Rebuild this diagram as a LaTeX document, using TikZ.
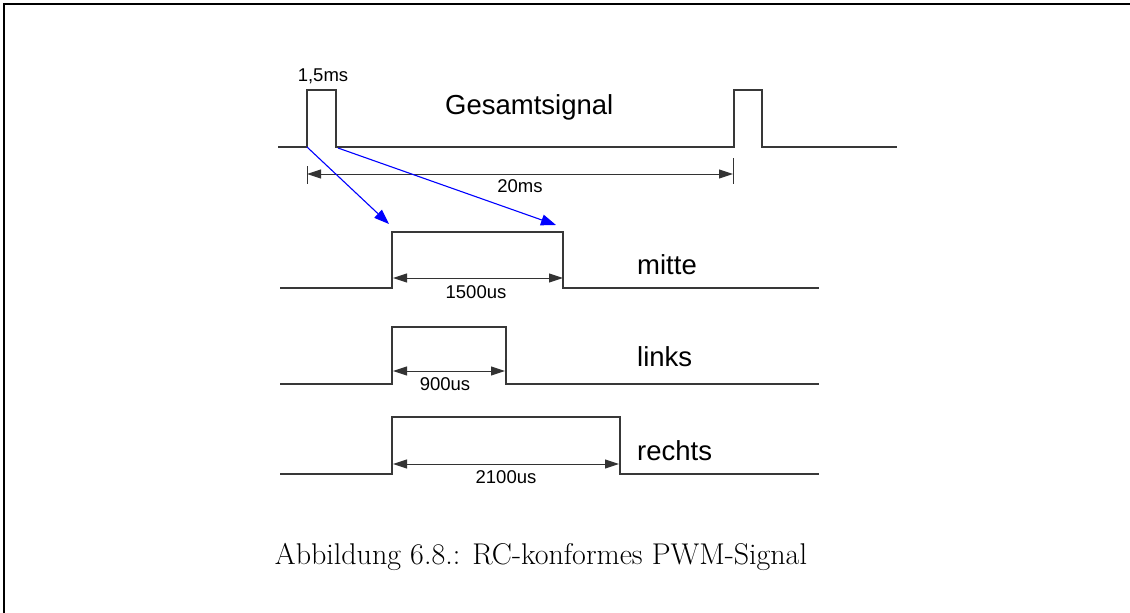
\documentclass[tikz,border=0pt]{standalone}
\usepackage{fontspec}
\newfontfamily\arialf{Liberation Sans}
\usetikzlibrary{arrows.meta}
\begin{document}
\begin{tikzpicture}[x=1pt,y=-1pt,
  sig/.style={draw=black!78,line width=1.1pt},
  dim/.style={draw=black!80,line width=1pt,{Triangle[length=14pt,width=9pt]}-{Triangle[length=14pt,width=9pt]}},
  tick/.style={draw=black!80,line width=1pt},
  bluearr/.style={draw=blue,line width=1.1pt,-{Triangle[length=15pt,width=11pt]}},
  small/.style={font=\arialf\fontsize{18.5}{20}\selectfont,inner sep=0pt,anchor=base},
  big/.style={font=\arialf\fontsize{27.5}{30}\selectfont,inner sep=0pt,anchor=base west},
  frame/.style={draw=black,line width=1.4pt}]
\useasboundingbox (0,0) rectangle (1130,613);
% frame
\coordinate (fa) at (4,613);
\coordinate (fb) at (4,4);
\coordinate (fc) at (1130,4);
\draw[frame] (fa) -- (fb) -- (fc);

% Gesamtsignal
\coordinate (g0) at (278,147);
\coordinate (g1) at (307,147);
\coordinate (g2) at (307,90);
\coordinate (g3) at (336,90);
\coordinate (g4) at (336,147);
\coordinate (g5) at (734,147);
\coordinate (g6) at (734,90);
\coordinate (g7) at (762,90);
\coordinate (g8) at (762,147);
\coordinate (g9) at (897,147);
\draw[sig] (g0) -- (g1) -- (g2) -- (g3) -- (g4) -- (g5) -- (g6) -- (g7) -- (g8) -- (g9);
\node[small] (l15) at (323,81) {1,5ms};
\node[big] (lges) at (445,114) {Gesamtsignal};
% 20ms dimension
\coordinate (ta1) at (307,166);
\coordinate (ta2) at (307,184);
\coordinate (tb1) at (733,158);
\coordinate (tb2) at (733,184);
\draw[tick] (ta1) -- (ta2);
\draw[tick] (tb1) -- (tb2);
\coordinate (d20a) at (307,174);
\coordinate (d20b) at (733,174);
\draw[dim] (d20a) -- (d20b);
\node[small] (l20) at (520,192) {20ms};

% mitte
\coordinate (m0) at (280,288);
\coordinate (m1) at (392,288);
\coordinate (m2) at (392,232);
\coordinate (m3) at (563,232);
\coordinate (m4) at (563,288);
\coordinate (m5) at (819,288);
\draw[sig] (m0) -- (m1) -- (m2) -- (m3) -- (m4) -- (m5);
\coordinate (dma) at (393,278);
\coordinate (dmb) at (563,278);
\draw[dim] (dma) -- (dmb);
\node[small] (l1500) at (476,298) {1500us};
\node[big] (lmitte) at (637,274) {mitte};

% links
\coordinate (k0) at (280,384);
\coordinate (k1) at (392,384);
\coordinate (k2) at (392,327);
\coordinate (k3) at (506,327);
\coordinate (k4) at (506,384);
\coordinate (k5) at (819,384);
\draw[sig] (k0) -- (k1) -- (k2) -- (k3) -- (k4) -- (k5);
\coordinate (tk1) at (505,359);
\coordinate (tk2) at (505,381);
\draw[tick] (tk1) -- (tk2);
\coordinate (dka) at (393,371);
\coordinate (dkb) at (505,371);
\draw[dim] (dka) -- (dkb);
\node[small] (l900) at (445,390) {900us};
\node[big] (llinks) at (637,366) {links};

% rechts
\coordinate (r0) at (280,474);
\coordinate (r1) at (392,474);
\coordinate (r2) at (392,417);
\coordinate (r3) at (620,417);
\coordinate (r4) at (620,474);
\coordinate (r5) at (819,474);
\draw[sig] (r0) -- (r1) -- (r2) -- (r3) -- (r4) -- (r5);
\coordinate (dra) at (393,464);
\coordinate (drb) at (619,464);
\draw[dim] (dra) -- (drb);
\node[small] (l2100) at (506,483) {2100us};
\node[big] (lrechts) at (637,460) {rechts};

% blue arrows
\coordinate (b1t) at (389,224);
\coordinate (b2s) at (338,148);
\coordinate (b2t) at (556,225);
\draw[bluearr] (g1) -- (b1t);
\draw[bluearr] (b2s) -- (b2t);

% caption
\node[font=\fontsize{30}{34}\selectfont,inner sep=0pt,anchor=base] (cap) at (541,564) {Abbildung 6.8.: RC-konformes PWM-Signal};
\end{tikzpicture}
\end{document}
